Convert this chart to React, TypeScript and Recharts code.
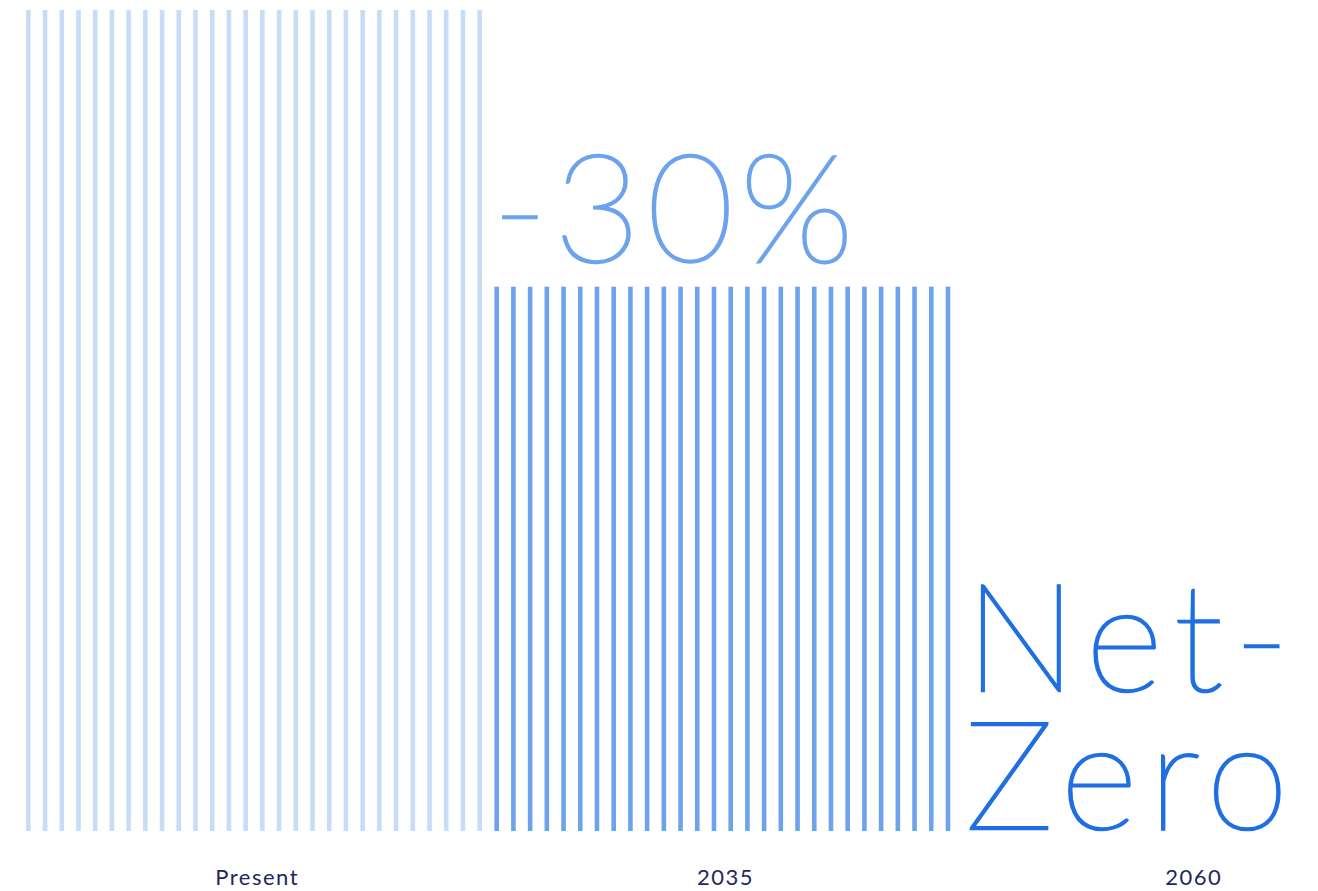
import React from 'react';
import { BarChart, Bar, XAxis, YAxis, LabelList, Cell } from 'recharts';

const categories = ['Present', '2035', '2060'];
const emissions = [100, 66.3, 0];
const callouts = ['', '-30%', 'Net-Zero'];

const barColors = ['#c8dcf8', '#6ca3ec', '#1f6fe2'];
const calloutColors = ['#c8dcf8', '#6ca3ec', '#1f6fe2'];
const tickColor = '#1f295b';

const data = categories.map((name, i) => ({ name, value: emissions[i], callout: callouts[i] }));

const STRIPES = 28;
const STRIPE_W = 4.6;

const StripedBar = (props: any) => {
  const { x, y, width, height, fill } = props;
  if (!height || height <= 0) return null;
  const step = width / STRIPES;
  return (
    <g>
      {Array.from({ length: STRIPES }, (_, k) => (
        <rect key={k} x={x + (k + 0.5) * step - STRIPE_W / 2} y={y} width={STRIPE_W} height={height} fill={fill} />
      ))}
    </g>
  );
};

const Callout = (props: any) => {
  const vb = props.viewBox || props;
  const x = vb.x ?? props.x;
  const y = vb.y ?? props.y;
  const height = vb.height ?? props.height ?? 0;
  const value = String(props.value ?? '');
  if (!value) return null;
  const idx = callouts.indexOf(value);
  const color = calloutColors[idx] || '#1f6fe2';
  const hy = value.indexOf('-', 1);
  const lines = hy > 0 ? [value.slice(0, hy + 1), value.slice(hy + 1)] : [value];
  const multi = lines.length > 1;
  const bottom = height > 0 ? y - 25 : y - 2;
  const lh = 138;
  const tx = x + (multi ? 8 : 4);
  return (
    <text
      fill={color}
      stroke={color}
      strokeWidth={2.6}
      fontFamily="Lato, 'Open Sans', sans-serif"
      fontWeight={100}
      fontSize={150}
      letterSpacing={multi ? 11 : 6}
    >
      {lines.map((ln, i) => (
        <tspan key={i} x={tx} y={bottom - (lines.length - 1 - i) * lh}>
          {ln}
        </tspan>
      ))}
    </text>
  );
};

export default function App() {
  return (
    <div style={{ position: 'absolute', left: 0, top: 0, width: 1318, height: 891, overflow: 'hidden', background: '#fff' }}>
      <BarChart
        width={1425}
        height={891}
        data={data}
        margin={{ top: 10, right: 0, left: 20, bottom: 0 }}
        barCategoryGap={0}
      >
        <XAxis
          dataKey="name"
          axisLine={false}
          tickLine={false}
          tickSize={0}
          tickMargin={38}
          height={60}
          interval={0}
          tick={{ fill: tickColor, fontSize: 22, fontFamily: 'Lato, sans-serif', letterSpacing: 1.5, dx: 3 }}
        />
        <YAxis hide domain={[0, 100]} />
        <Bar dataKey="value" shape={<StripedBar />} isAnimationActive={false}>
          {data.map((d, i) => (
            <Cell key={d.name} fill={barColors[i]} />
          ))}
          <LabelList dataKey="callout" content={<Callout />} />
        </Bar>
      </BarChart>
    </div>
  );
}
